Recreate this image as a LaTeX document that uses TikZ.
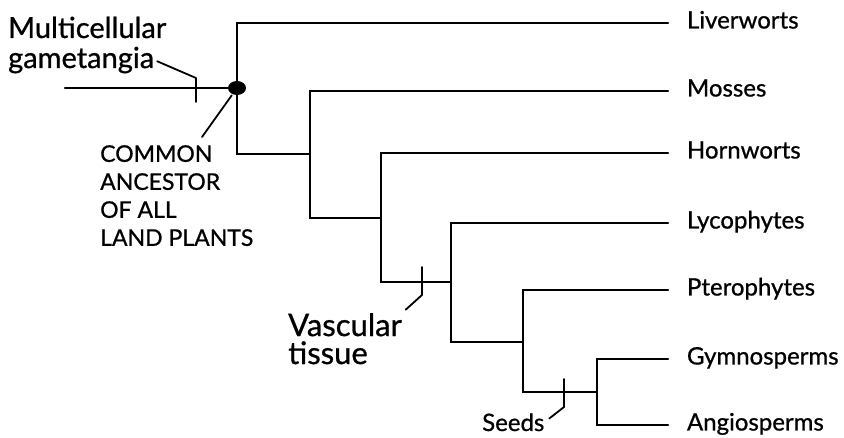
\documentclass[tikz,border=0pt]{standalone}
\usepackage{fontspec}
\setmainfont{Lato}[FakeBold=0.8]
\usetikzlibrary{positioning,calc}
\tikzset{
    % Branches of the tree
    branch/.style={line width=2.2pt, line cap=round, line join=miter},
    % Ticks on the branches and the lines to their notes
    pointer/.style={line width=1.8pt, line cap=round, line join=round},
    % Names at the tips
    taxon/.style={
        anchor=west,
        inner sep=0pt,
        outer xsep=19pt,
        text height=17pt,
        text depth=6pt,
        font=\fontsize{24}{28}\selectfont,
    },
    % Hand written notes
    note/.style={
        inner sep=0pt,
        align=left,
        font=\fontsize{29}{27}\selectfont,
    },
    % Notes in capitals
    caps note/.style={
        note,
        font=\fontsize{23}{28}\selectfont,
    },
}

\begin{document}
\begin{tikzpicture}[x=1pt, y=-1pt]
    \useasboundingbox (0,0) rectangle (844,438);

    % branch points
    \coordinate (stem) at (65,88);
    \coordinate (n1) at (237,88);
    \coordinate (n2) at (310,154);
    \coordinate (n3) at (381,218);
    \coordinate (n4) at (451,282);
    \coordinate (n5) at (523,342);
    \coordinate (n6) at (597,392);

    % tips
    \node (liverworts) [taxon] at (668,23) {Liverworts};
    \node (mosses) [taxon] at (668,91) {Mosses};
    \node (hornworts) [taxon] at (668,153) {Hornworts};
    \node (lycophytes) [taxon] at (668,223) {Lycophytes};
    \node (pterophytes) [taxon] at (668,290) {Pterophytes};
    \node (gymnosperms) [taxon] at (668,359) {Gymnosperms};
    \node (angiosperms) [taxon] at (668,425) {Angiosperms};

    % notes
    \node (multi) [note, anchor=base west] at (8,38) {Multicellular};
    \node (gamet) [note, anchor=base west] at (8,68) {gametangia};
    \node (ancestor) [caps note, anchor=north west] at (100,145) {COMMON\\ANCESTOR\\OF ALL\\LAND PLANTS};
    \node (vascular) [note, anchor=north west, font=\fontsize{31}{28}\selectfont] at (288,313) {Vascular\\tissue};
    \node (seeds) [note, anchor=base west, font=\fontsize{24}{28}\selectfont] at (482,431) {Seeds};

    % where the characters appear
    \coordinate (gamet mark) at (196,88);
    \coordinate (vasc mark) at (422,282);
    \coordinate (seed mark) at (564,392);

    % tree
    \draw [branch] (stem) -- (n1);
    \draw [branch] (liverworts.west) -| (n1) |- (n2);
    \draw [branch] (mosses.west) -| (n2) |- (n3);
    \draw [branch] (hornworts.west) -| (n3) |- (n4);
    \draw [branch] (lycophytes.west) -| (n4) |- (n5);
    \draw [branch] (pterophytes.west) -| (n5) |- (n6);
    \draw [branch] (gymnosperms.west) -| (n6) |- (angiosperms.west);
    \fill (n1) ellipse [x radius=9pt, y radius=7pt];

    % ticks and pointers
    \draw [pointer, shorten <=3pt] (gamet.east) -- ([yshift=10pt]gamet mark) -- ([yshift=-14pt]gamet mark);
    \draw [pointer, shorten >=5pt] ([yshift=15pt]vasc mark) -- ([yshift=-13pt]vasc mark) -- (vascular.north east);
    \draw [pointer, shorten >=6pt] ([yshift=13pt]seed mark) -- ([yshift=-15pt]seed mark) -- (seeds.east);
    \draw [pointer, shorten <=9pt] (n1) -- ([xshift=102pt, yshift=8pt]ancestor.north west);
\end{tikzpicture}
\end{document}
